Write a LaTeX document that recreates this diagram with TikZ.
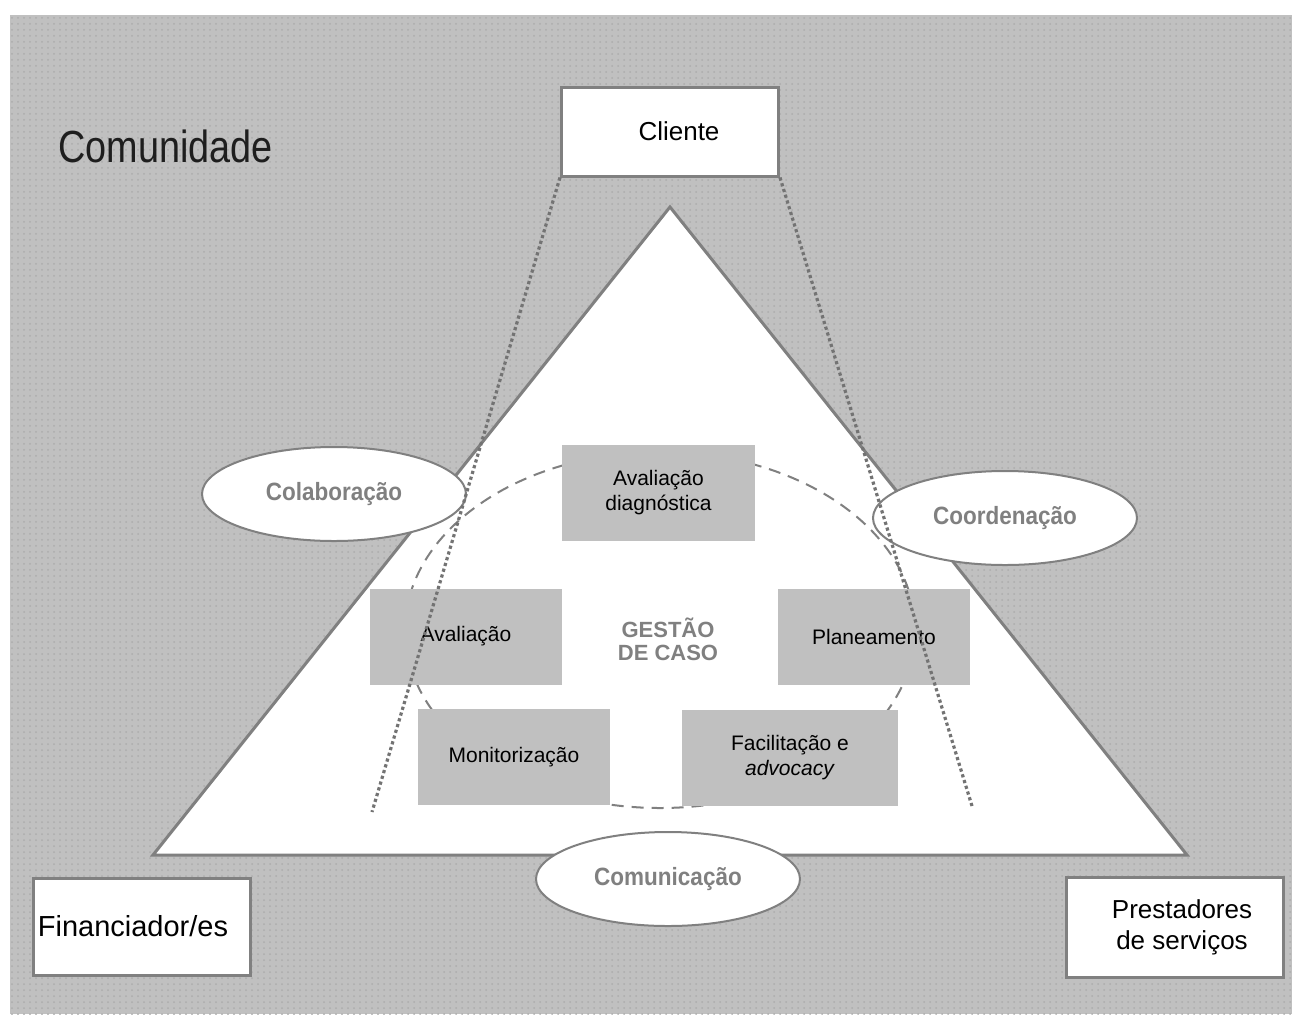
\documentclass[tikz,border=0pt]{standalone}
\usepackage{fontspec}
\setmainfont{Liberation Sans}
\usetikzlibrary{shapes.geometric,patterns}
\definecolor{cinza}{RGB}{128,128,128}
\definecolor{fundo}{RGB}{192,192,192}
\definecolor{pontos}{RGB}{172,172,172}
\definecolor{escuro}{RGB}{30,30,30}
\definecolor{linha}{RGB}{115,115,115}

\begin{document}
\begin{tikzpicture}[x=0.5pt,y=-0.5pt]
	\tikzset{caixa/.style={rectangle, draw=cinza, line width=1.5pt, fill=white, minimum width=108.5pt, minimum height=48.5pt, align=center, font=\fontsize{13}{15.5}\selectfont},
	etapa/.style={rectangle, fill=fundo, minimum height=48pt, align=center, font=\fontsize{10.5}{12.5}\selectfont},
	elipse/.style={ellipse, draw=cinza, line width=1pt, fill=white, minimum width=132pt, minimum height=47pt, text=cinza, font=\bfseries\fontsize{12.5}{14}\selectfont},
	pontilhado/.style={linha, line width=1.6pt, dash pattern=on 1.6pt off 1.4pt},
	tracejado/.style={cinza, line width=1pt, dash pattern=on 6pt off 4pt}};

	\useasboundingbox (0,0) rectangle (1292,1014);
	\fill[fundo] (10,15) rectangle (1292,1014);
	\fill[pattern=dots, pattern color=pontos] (10,15) rectangle (1292,1014);

	\node[anchor=base west, inner sep=0pt, text=escuro, font=\fontsize{22.5}{27}\selectfont] (comunidade) at (58,162) {\scalebox{0.84}[1]{Comunidade}};

	% triangulo
	\coordinate (topo) at (670,207);
	\coordinate (baseesq) at (153,855);
	\coordinate (basedir) at (1187,855);
	\draw[fill=white, draw=cinza, line width=1.5pt] (topo) -- (basedir) -- (baseesq) -- cycle;

	\node[elipse] (colab) at (334,494) {\scalebox{0.9}[1]{Colaboração}};
	\node[elipse] (coord) at (1005,518) {\scalebox{0.9}[1]{Coordenação}};
	\node[elipse] (comun) at (668,879) {\scalebox{0.9}[1]{Comunicação}};

	\draw[tracejado] (660,630) ellipse [x radius=127.5pt, y radius=89pt];

	\foreach \nome/\px/\py/\larg/\texto in {diag/658.5/492.5/96.5/{Avaliação\\diagnóstica}, aval/466/636.5/96/Avaliação,
		plan/874/636.5/96/Planeamento, monit/514/757/96/Monitorização, facil/790/757.5/108/{Facilitação e\\\textit{advocacy}}}{
		\node[etapa, minimum width=\larg pt] (\nome) at (\px,\py) {\texto};
	}

	\node[text=cinza, align=center, font=\bfseries\fontsize{11}{11.5}\selectfont] (gestao) at (668,639) {GESTÃO\\DE CASO};

	\node[caixa, minimum height=44.5pt] (cliente) at (670,131.5) {\hspace*{9pt}Cliente};
	\node[caixa, inner xsep=2pt, font=\fontsize{14.5}{17}\selectfont] (financ) at (141.5,926.5) {Financiador/es\hspace*{8.5pt}};
	\node[caixa, minimum height=50pt] (prest) at (1174.5,927) {\hspace*{7.5pt}Prestadores\\\hspace*{7.5pt}de serviços};

	\coordinate (fimesq) at (372,812);
	\coordinate (fimdir) at (972,806);
	\draw[pontilhado] (cliente.south west) -- (fimesq);
	\draw[pontilhado] (cliente.south east) -- (fimdir);

\end{tikzpicture}
\end{document}
